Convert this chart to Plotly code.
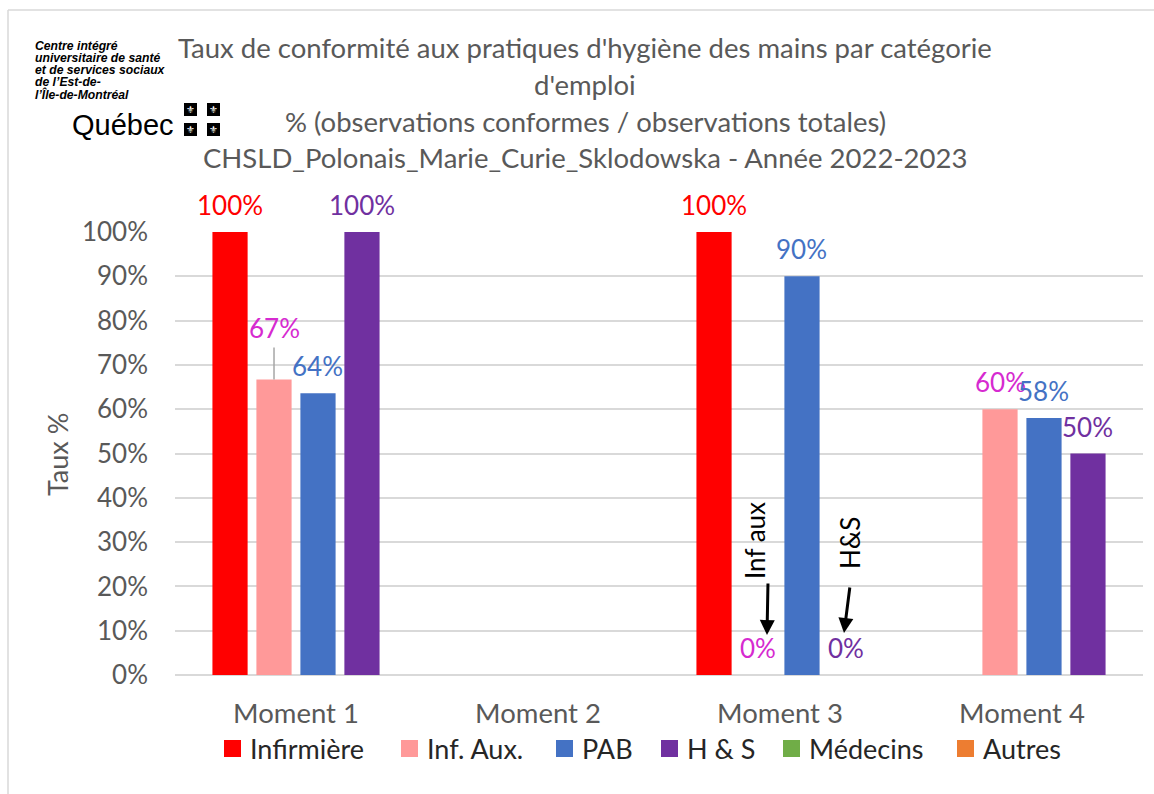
import plotly.graph_objects as go

# ---------------- data ----------------
categories = ["Moment 1", "Moment 2", "Moment 3", "Moment 4"]
series_names = ["Infirmière", "Inf. Aux.", "PAB", "H & S", "Médecins", "Autres"]
infirmiere = [1.00, None, 1.00, None]
inf_aux = [0.667, None, 0.00, 0.60]
pab = [0.636, None, 0.90, 0.58]
h_s = [1.00, None, 0.00, 0.50]
medecins = [None, None, None, None]
autres = [None, None, None, None]
y_tick_values = [0, 0.1, 0.2, 0.3, 0.4, 0.5, 0.6, 0.7, 0.8, 0.9, 1.0]

title_lines = [
    "Taux de conformité aux pratiques d'hygiène des mains par catégorie",
    "d'emploi",
    "% (observations conformes / observations totales)",
    "CHSLD_Polonais_Marie_Curie_Sklodowska - Année 2022-2023",
]
logo_lines = ["Centre intégré", "universitaire de santé", "et de services sociaux",
              "de l’Est-de-", "l’Île-de-Montréal"]
logo_word = "Québec"
y_title = "Taux %"
callouts = ["Inf aux", "H&S"]

values = [infirmiere, inf_aux, pab, h_s, medecins, autres]
bar_colors = ["#FF0000", "#FF9999", "#4472C4", "#7030A0", "#70AD47", "#ED7D31"]
label_colors = ["#FF0000", "#D62AD0", "#4472C4", "#7030A0", "#70AD47", "#ED7D31"]

# ---------------- layout geometry ----------------
W, H = 1154, 794
L, R, T, B = 175, 11, 232, 119
PW, PH = W - L - R, H - T - B
BARGAP = 0.273
FONT = "Lato, 'Open Sans', sans-serif"
GRAY = "#595959"


def px_x(x):
    return (x - L) / PW


def px_y(y):
    return 1 - (y - T) / PH


plotted = [i for i, v in enumerate(values) if any(a is not None for a in v)]
n_groups = len(plotted)
slot = (1 - BARGAP) / n_groups

fig = go.Figure()
for k, i in enumerate(plotted):
    fig.add_trace(go.Bar(
        x=categories, y=values[i], name=series_names[i],
        marker=dict(color=bar_colors[i], line=dict(width=0)),
        offsetgroup=str(k), showlegend=False, hoverinfo="x+y+name",
    ))

annotations = []
shapes = []

# data labels
for k, i in enumerate(plotted):
    for c, v in enumerate(values[i]):
        if v is None:
            continue
        xpos = c + (k - (n_groups - 1) / 2) * slot
        extra = 25 if (i == 1 and c == 0) else 0
        annotations.append(dict(
            x=xpos, y=v, xref="x", yref="y", text=f"{round(v * 100):.0f}%",
            showarrow=False, yanchor="middle", yshift=27 + extra,
            font=dict(family=FONT, size=26, color=label_colors[i]),
        ))
        if extra:
            shapes.append(dict(type="line", xref="x", yref="y",
                               x0=xpos, x1=xpos, y0=v, y1=v + 32 / PH,
                               line=dict(color="#A6A6A6", width=1.5)))

# title
title_y = [48, 84, 122, 157]
for line, yy in zip(title_lines, title_y):
    annotations.append(dict(x=px_x(585), y=px_y(yy), xref="paper", yref="paper",
                            text=line, showarrow=False, xanchor="center", yanchor="middle",
                            font=dict(family=FONT, size=27.5, color=GRAY)))

# y-axis title
annotations.append(dict(x=px_x(57), y=px_y(455), xref="paper", yref="paper",
                        text=y_title, showarrow=False, textangle=-90,
                        xanchor="center", yanchor="middle",
                        font=dict(family=FONT, size=27, color=GRAY)))

# logo
logo_y = [46, 58, 70, 82, 94]
for line, yy in zip(logo_lines, logo_y):
    annotations.append(dict(x=px_x(33), y=px_y(yy), xref="paper", yref="paper",
                            text=f"<b><i>{line}</i></b>", showarrow=False,
                            xanchor="left", yanchor="middle",
                            font=dict(family="Liberation Sans, Arial", size=12.2, color="#000000")))
annotations.append(dict(x=px_x(70), y=px_y(125), xref="paper", yref="paper",
                        text=logo_word, showarrow=False, xanchor="left", yanchor="middle",
                        font=dict(family="Liberation Sans, Arial", size=29, color="#000000")))
for sx in (184, 207):
    for sy in (103, 123):
        shapes.append(dict(type="rect", xref="paper", yref="paper",
                           x0=px_x(sx), x1=px_x(sx + 13), y0=px_y(sy + 13), y1=px_y(sy),
                           fillcolor="#000000", line=dict(width=0)))
        annotations.append(dict(x=px_x(sx + 6.5), y=px_y(sy + 6.5), xref="paper", yref="paper",
                                text="⚜", showarrow=False, xanchor="center", yanchor="middle",
                                font=dict(family="DejaVu Sans", size=10, color="#FFFFFF")))

# call-outs with arrows (Moment 3)
annotations.append(dict(x=(755 - L) / (PW / 4) - 0.5, y=(675 - 541) / PH, xref="x", yref="y",
                        text=callouts[0], showarrow=False, textangle=-90,
                        font=dict(family=FONT, size=26, color="#000000")))
annotations.append(dict(x=(850 - L) / (PW / 4) - 0.5, y=(675 - 543) / PH, xref="x", yref="y",
                        text=callouts[1], showarrow=False, textangle=-90,
                        font=dict(family=FONT, size=26, color="#000000")))
annotations.append(dict(x=(767 - L) / (PW / 4) - 0.5, y=(675 - 635) / PH, xref="x", yref="y",
                        text="", showarrow=True, ax=1, ay=-53, arrowhead=2, arrowsize=1,
                        arrowwidth=3, arrowcolor="#000000"))
annotations.append(dict(x=(844 - L) / (PW / 4) - 0.5, y=(675 - 633) / PH, xref="x", yref="y",
                        text="", showarrow=True, ax=6, ay=-47, arrowhead=2, arrowsize=1,
                        arrowwidth=3, arrowcolor="#000000"))

# custom legend
legend_x = [224, 401, 556, 661, 783, 957]
for i, name in enumerate(series_names):
    x0 = legend_x[i]
    shapes.append(dict(type="rect", xref="paper", yref="paper",
                       x0=px_x(x0), x1=px_x(x0 + 17), y0=px_y(757), y1=px_y(740),
                       fillcolor=bar_colors[i], line=dict(width=0)))
    annotations.append(dict(x=px_x(x0 + 24), y=px_y(748), xref="paper", yref="paper",
                            text=name, showarrow=False, xanchor="left", yanchor="middle",
                            font=dict(family=FONT, size=27, color="#262626")))

# chart frame
shapes.append(dict(type="line", xref="paper", yref="paper", x0=px_x(8), x1=px_x(1160),
                   y0=px_y(10), y1=px_y(10), line=dict(color="#D9D9D9", width=1.5)))
shapes.append(dict(type="line", xref="paper", yref="paper", x0=px_x(8), x1=px_x(8),
                   y0=px_y(10), y1=px_y(800), line=dict(color="#D9D9D9", width=1.5)))

fig.update_layout(
    width=W, height=H, margin=dict(l=L, r=R, t=T, b=B, pad=0),
    paper_bgcolor="#FFFFFF", plot_bgcolor="#FFFFFF",
    barmode="group", bargap=BARGAP, bargroupgap=0.2,
    showlegend=False,
    annotations=annotations, shapes=shapes,
    font=dict(family=FONT, color=GRAY),
    xaxis=dict(type="category", categoryorder="array", categoryarray=categories,
               showgrid=False, showline=False, ticks="", zeroline=False,
               tickfont=dict(family=FONT, size=27.5, color=GRAY), ticklabelstandoff=19),
    yaxis=dict(range=[0, 1], tickvals=y_tick_values, tickformat=".0%",
               showgrid=True, gridcolor="#D9D9D9", gridwidth=1.5,
               zeroline=True, zerolinecolor="#D9D9D9", zerolinewidth=1.5,
               showline=False, ticks="",
               tickfont=dict(family=FONT, size=26, color=GRAY), ticklabelstandoff=26),
)

fig.write_html("out.html", config={"displayModeBar": False},
               post_script="document.body.style.margin='0';")
